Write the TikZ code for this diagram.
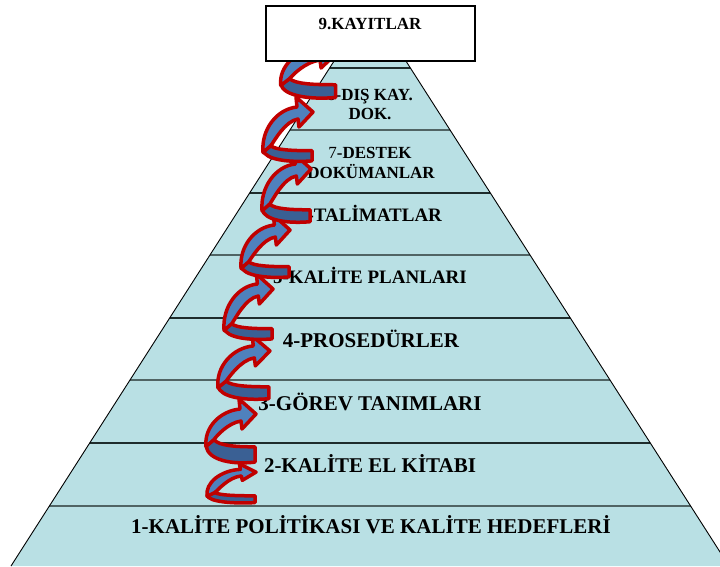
\documentclass[tikz,border=0pt]{standalone}
\usepackage{fontspec}
\setmainfont{Liberation Serif}
\definecolor{pyrfill}{RGB}{185,224,228}
\definecolor{lndark}{RGB}{30,44,44}
\definecolor{lngray}{RGB}{80,100,100}
\definecolor{ribred}{RGB}{192,0,0}
\definecolor{ribfront}{RGB}{79,129,189}
\definecolor{ribback}{RGB}{58,96,148}
\begin{document}
\begin{tikzpicture}[x=1pt,y=-1pt,
    lbl/.style={font=\bfseries\fontsize{21}{24}\selectfont, anchor=base, inner sep=0pt},
    lblmid/.style={lbl, font=\bfseries\fontsize{19}{22}\selectfont},
    lblsmall/.style={lbl, font=\bfseries\fontsize{17}{20}\selectfont},
    ribbon/.style={draw=ribred, line width=3.5pt, line join=round},
    divider/.style={line width=2.5pt}]
  \useasboundingbox (0,0) rectangle (720,566);
  \clip (0,0) rectangle (720,566);

  % pyramid and its bands
  \fill[pyrfill] (336,58) -- (404,58) -- (729,566) -- (11,566) -- cycle;
  \begin{scope}
    \clip (336,58) -- (404,58) -- (729,566) -- (11,566) -- cycle;
    \foreach \ly/\lc in {506/lngray,443/lndark,380/lngray,318/lndark,255/lngray,193/lndark,130/lngray,68/lndark}
      {\draw[divider,\lc] (0,\ly) -- (720,\ly);}
  \end{scope}
  \draw[line width=0.9pt] (11,566) -- (336,58) (404,58) -- (729,566);

  % levels
  \node[lbl] (lvl1) at (371,533) {1-KALİTE POLİTİKASI VE KALİTE HEDEFLERİ};
  \node[lbl] (lvl2) at (370,472) {2-KALİTE EL KİTABI};
  \node[lbl] (lvl3) at (370,410) {3-GÖREV TANIMLARI};
  \node[lbl] (lvl4) at (371,347) {4-PROSEDÜRLER};
  \node[lblmid] (lvl5) at (370,283) {5-KALİTE PLANLARI};
  \node[lblmid] (lvl6) at (370,221) {6-TALİMATLAR};
  \node[lblsmall] (lvl7a) at (370,158) {{\mdseries 7}-DESTEK};
  \node[lblsmall] (lvl7b) at (371,178) {DOKÜMANLAR};
  \node[lblsmall] (lvl8a) at (370,100) {8-DIŞ KAY.};
  \node[lblsmall] (lvl8b) at (370,119) {DOK.};

  % spiral, one coil per level
  \foreach \cx/\cy/\cxs/\cbs/\cfs/\crise in {209/493/0.98/0.4/0.55/38, 208/440.5/1/0.9/1/26.5,
      220/381.9/1.04/0.7/1/31, 226/324.5/0.98/0.6/1/35.5, 243/262.5/0.98/0.6/1/32.5,
      264/204.9/0.98/0.7/1/35.9, 265/146.5/1/0.6/1/34.5, 283/79.5/1.12/0.75/1/26.5}
  {
    \begin{scope}[shift={(\cx,\cy)}, xscale=\cxs]
      \filldraw[ribbon, fill=ribback, yscale=\cbs] (47,7) -- (47,24)
        .. controls (24,27) and (0,22) .. (-2,6) -- (6,-1)
        .. controls (11,6) and (28,7) .. (47,7) -- cycle;
      \filldraw[ribbon, fill=ribfront, yscale=\cfs] (-2,6)
        .. controls (-4,-0.5*\crise) and (12,-\crise-3) .. (32,-\crise-5)
        -- (31,-\crise-15) -- (48,-\crise) -- (34,-\crise+15) -- (33,-\crise+7)
        .. controls (20,-\crise+9) and (9,-5) .. (6,-1) -- cycle;
    \end{scope}
  }

  % top box
  \node[draw, line width=2pt, fill=white, minimum width=209pt, minimum height=55pt, inner sep=0pt] (kayit) at (370.5,33.5) {};
  \node[lblsmall] (kayittxt) at (370,29) {9.KAYITLAR};
\end{tikzpicture}
\end{document}
